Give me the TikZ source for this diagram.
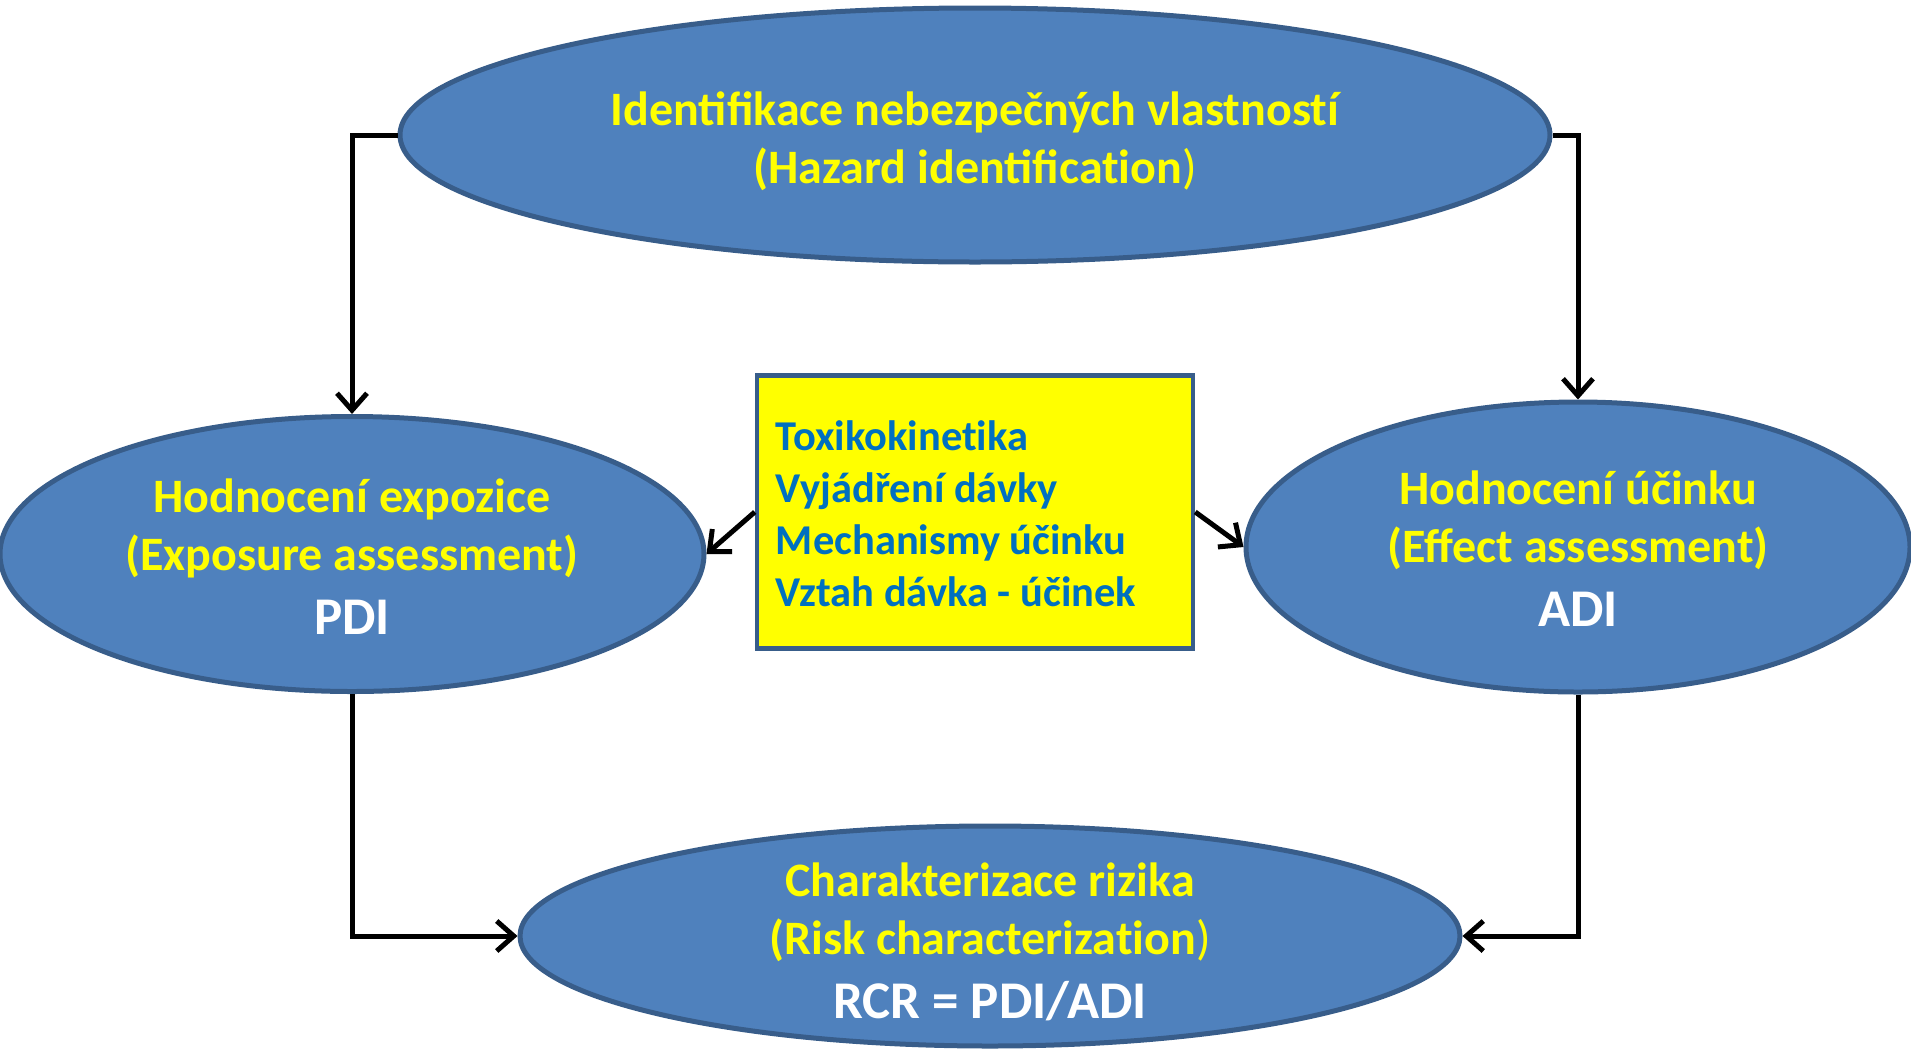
\documentclass[tikz,border=0pt]{standalone}
\usepackage{fontspec}
\setmainfont{Carlito}
\usetikzlibrary{shapes.geometric,arrows.meta}
\definecolor{ellfill}{HTML}{4F81BD}
\definecolor{ellborder}{HTML}{385D8A}
\definecolor{txtyellow}{HTML}{FFFF00}
\definecolor{boxtext}{HTML}{0070C0}
\tikzset{
  ellnode/.style={ellipse, fill=ellfill, draw=ellborder, line width=5pt, inner sep=0pt},
  elltext/.style={inner sep=0pt, align=center, text=txtyellow, font=\fontsize{48}{58}\selectfont\bfseries},
  infobox/.style={rectangle, fill=txtyellow, draw=ellborder, line width=4.5pt, inner sep=0pt,
    minimum width=436pt, minimum height=273pt},
  infotext/.style={anchor=west, inner sep=0pt, align=left, text=boxtext,
    font=\fontsize{42.5}{52}\selectfont\bfseries},
  conn/.style={line width=5pt, -{Straight Barb[length=17pt,width=30pt,line width=5pt]}},
}
\newcommand{\wht}[1]{{\fontsize{53}{62}\selectfont\textcolor{white}{#1}}}
\newcommand{\nolig}{\kern0pt}
\begin{document}
\begin{tikzpicture}[x=1pt,y=-1pt]
\useasboundingbox (0,0) rectangle (1911,1050);
\node[ellnode, minimum width=1150pt, minimum height=254pt] (haz) at (975,135) {};
\node[elltext] (haztxt) at (975,141)
  {Identifikace nebezpečných vlastnost\nolig í\\(Hazard identificat\nolig ion{\mdseries)}};
\node[ellnode, minimum width=704pt, minimum height=275pt] (exp) at (352,554) {};
\node[elltext] (exptxt) at (352,556.5)
  {Hodnocení expozice\\(Exposure assessment)\\[6pt]\wht{PDI}};
\node[ellnode, minimum width=664pt, minimum height=290pt] (eff) at (1578,547) {};
\node[elltext] (efftxt) at (1578,549)
  {Hodnocení účinku\\(Effect assessment)\\[6pt]\wht{ADI}};
\node[ellnode, minimum width=940pt, minimum height=220pt] (risk) at (990,936) {};
\node[elltext] (risktxt) at (990,941.5)
  {Charakterizace rizika\\(Risk characterizat\nolig ion{\mdseries)}\\[6pt]\wht{RCR = PDI/ADI}};
\node[infobox] (box) at (975,512) {};
\node[infotext] (boxtxt) at ([xshift=21pt,yshift=-2pt]box.west)
  {Toxikokinet\nolig ika\\Vyjádření dávky\\Mechanismy účinku\\Vztah dávka - účinek};
\coordinate (c1) at (exp.north |- haz.west);
\coordinate (c2) at (eff.north |- haz.east);
\coordinate (c3) at (exp.south |- risk.west);
\coordinate (c4) at (eff.south |- risk.east);
\draw[conn] (haz.west) -- (c1) -- (exp.north);
\draw[conn] (haz.east) -- (c2) -- (eff.north);
\draw[conn] (exp.south) -- (c3) -- (risk.west);
\draw[conn] (eff.south) -- (c4) -- (risk.east);
\draw[conn] (box.west |- 0,512) -- (exp.east);
\draw[conn] (box.east |- 0,512) -- (eff.west);
\end{tikzpicture}
\end{document}
